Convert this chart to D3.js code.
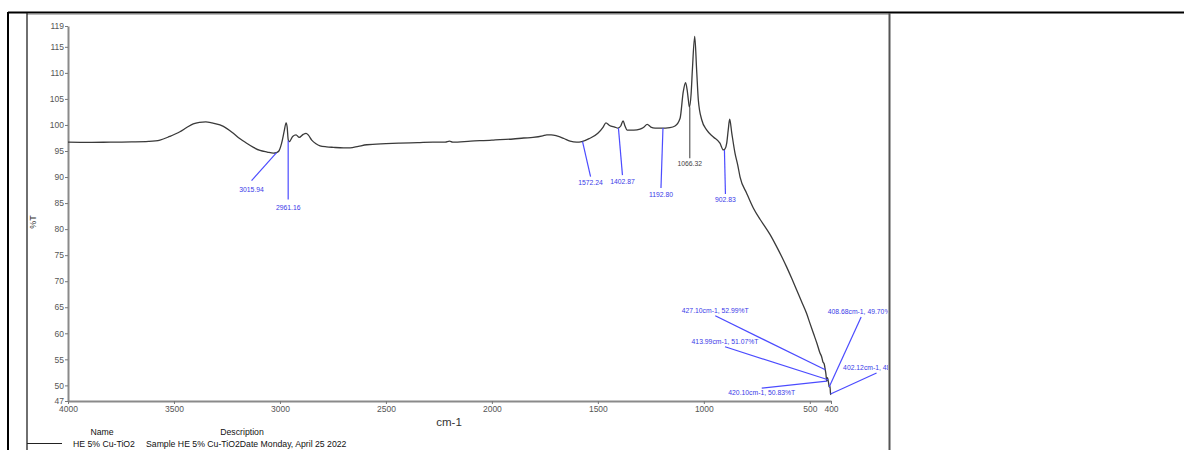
<!DOCTYPE html>
<html><head><meta charset="utf-8">
<script src="https://cdn.jsdelivr.net/npm/d3@7"></script>
<style>
body{margin:0;background:#fff}
svg{display:block}
text{font-family:"Liberation Sans",Arial,Helvetica,sans-serif}
</style>
</head><body>
<svg id="chart" width="1184" height="450"></svg>
<script>
// ---------------- data ----------------
const wavenumbers = [4000,3900,3800,3700,3620,3566,3520,3472,3440,3409,3380,3350,3320,3283,3250,3220,3190,3157,3125,3094,3060,3031,3016,3005,2992,2980,2971,2966,2961,2956,2940,2924,2909,2890,2877,2865,2850,2830,2811,2780,2748,2700,2669,2630,2590,2500,2434,2350,2278,2220,2200,2185,2100,2000,1962,1900,1850,1806,1760,1741,1720,1694,1660,1631,1600,1576,1540,1500,1475,1462,1445,1420,1405,1392,1381,1372,1362,1330,1301,1285,1267,1250,1230,1200,1160,1136,1112,1097,1086,1078,1073,1068,1060,1054,1043,1034,1026,1010,986,955,924,908,900,892,885,878,868,853,840,829,798,766,735,710,688,656,630,609,585,562,540,515,500,483,465,452,445,438,432,427.1,424,420.1,417,413.99,411,408.68,405,402.12,400];
const transmittance = [96.7,96.65,96.7,96.75,96.85,97.1,97.8,98.7,99.5,100.2,100.5,100.6,100.4,100.0,99.3,98.4,97.4,96.5,95.7,95.1,94.8,94.6,94.7,95.0,96.5,98.8,100.4,99.6,97.2,96.8,97.8,98.1,97.6,98.2,98.4,98.0,97.1,96.4,96.0,95.8,95.7,95.6,95.6,95.9,96.2,96.4,96.5,96.6,96.7,96.7,96.9,96.7,96.9,97.1,97.2,97.3,97.5,97.6,97.9,98.1,98.1,97.9,97.4,96.9,96.7,96.8,97.4,98.4,99.6,100.4,99.9,99.6,99.4,99.8,100.8,99.8,99.0,99.0,99.2,99.5,100.1,99.6,99.4,99.4,99.5,99.8,101.3,106.4,108.1,106.5,104.8,103.4,106.0,110.6,117.0,110.6,104.8,101.0,99.0,97.7,96.5,95.2,95.4,96.5,99.0,101.1,98.4,94.6,92.3,90.0,86.9,84.0,81.9,80.4,79.0,76.6,74.5,72.7,70.5,68.3,66.2,63.8,62.0,60.0,57.9,56.2,55.6,54.5,54.1,52.99,52.2,50.83,51.5,51.07,50.4,49.70,49.9,48.35,48.2];

const xTicks = [4000,3500,3000,2500,2000,1500,1000,500,400];
const yTicks = [47,50,55,60,65,70,75,80,85,90,95,100,105,110,115,119];

const peakWavenumbers = [3015.94,2961.16,1572.24,1402.87,1192.80,1066.32,902.83];
const peakTransmittance = [94.7,97.0,96.8,99.4,99.4,103.4,95.2];
const peakLabels = ["3015.94","2961.16","1572.24","1402.87","1192.80","1066.32","902.83"];
const peakKinds = ["blue","blue","blue","blue","blue","gray","blue"];

const noteWavenumbers = [427.10,413.99,420.10,408.68,402.12];
const noteTransmittance = [52.99,51.07,50.83,49.70,48.35];
const noteLabels = ["427.10cm-1, 52.99%T","413.99cm-1, 51.07%T","420.10cm-1, 50.83%T","408.68cm-1, 49.70%T","402.12cm-1, 48.35%T"];

const legendHeaders = ["Name","Description"];
const legendNames = ["HE 5% Cu-TiO2"];
const legendDescriptions = ["Sample HE 5% Cu-TiO2Date Monday, April 25 2022"];

const xTitle = "cm-1";
const yTitle = "%T";

// ---------------- layout (pixel offsets for label leader lines) ----------------
const peakOffsets = [[-25,28,11],[0,59,10.5],[8,35,8.5],[4,47,8.5],[-2,60,8.5],[0,51,8],[1,44,8.5]];
const noteOffsets = [[-110,-54,-2.5],[-103,-33,-2.5],[-65,7,7],[32,-70,-2.5],[46,-21,-2.5]];

const svg = d3.select("#chart");
const x = d3.scaleLinear().domain([4000,400]).range([68,831]);
const y = d3.scaleLinear().domain([47,119]).range([401,26]);

// frame (table-like borders)
svg.append("line").attr("x1",8).attr("x2",1184).attr("y1",12.5).attr("y2",12.5).attr("stroke","#000").attr("stroke-width",2);
svg.append("line").attr("x1",27).attr("x2",889).attr("y1",14.5).attr("y2",14.5).attr("stroke","#bbb").attr("stroke-width",1);
svg.append("line").attr("x1",8).attr("x2",8).attr("y1",12).attr("y2",450).attr("stroke","#000").attr("stroke-width",2);
svg.append("line").attr("x1",27).attr("x2",27).attr("y1",13).attr("y2",450).attr("stroke","#222").attr("stroke-width",1.3);
svg.append("line").attr("x1",889.5).attr("x2",889.5).attr("y1",13).attr("y2",450).attr("stroke","#555").attr("stroke-width",2);

// clip for annotations (cell border)
svg.append("defs").append("clipPath").attr("id","cell")
  .append("rect").attr("x",28).attr("y",14).attr("width",860).attr("height",436);

// axes
const yAxis = d3.axisLeft(y).tickValues(yTicks).tickSize(3).tickSizeOuter(0).tickPadding(1).tickFormat(d3.format("d"));
const xAxis = d3.axisBottom(x).tickValues(xTicks).tickSize(3).tickSizeOuter(0).tickPadding(2).tickFormat(d3.format("d"));

const gy = svg.append("g").attr("transform","translate(68,0)").call(yAxis);
const gx = svg.append("g").attr("transform","translate(0,401)").call(xAxis);
[gx,gy].forEach(g=>{
  g.select(".domain").attr("stroke","#8a8a8a").attr("stroke-width",2);
  g.selectAll(".tick line").attr("stroke","#777").attr("stroke-width",1);
  g.selectAll(".tick text").attr("fill","#555").style("font-size","8.5px").style("font-family","'Liberation Sans',Arial,sans-serif");
});

// axis titles
svg.append("text").attr("x",449).attr("y",426).attr("text-anchor","middle")
  .style("font-size","11.5px").attr("fill","#333").text(xTitle);
svg.append("text").attr("transform","translate(36,222) rotate(-90)").attr("text-anchor","middle")
  .style("font-size","9px").attr("fill","#333").text(yTitle);

// spectrum
const pts = wavenumbers.map((w,i)=>[w,transmittance[i]]);
const line = d3.line().x(d=>x(d[0])).y(d=>y(d[1])).curve(d3.curveMonotoneX);
svg.append("path").datum(pts).attr("d",line).attr("fill","none")
  .attr("stroke","#3a3a3a").attr("stroke-width",1.3).attr("stroke-linejoin","round");

// peak markers
const ann = svg.append("g").attr("clip-path","url(#cell)");
peakWavenumbers.forEach((w,i)=>{
  const ax = x(w), ay = y(peakTransmittance[i]);
  const [dx,dy,ty] = peakOffsets[i];
  const lc = peakKinds[i]==="gray" ? "#5a5a5a" : "#4b4bff";
  const tc = peakKinds[i]==="gray" ? "#444" : "#3a3ae8";
  ann.append("line").attr("x1",ax).attr("y1",ay).attr("x2",ax+dx).attr("y2",ay+dy)
    .attr("stroke",lc).attr("stroke-width",1.2);
  ann.append("text").attr("x",ax+dx).attr("y",ay+dy+ty).attr("text-anchor","middle")
    .style("font-size","6.8px").attr("fill",tc).text(peakLabels[i]);
});

// low-wavenumber annotations
noteWavenumbers.forEach((w,i)=>{
  const ax = x(w), ay = y(noteTransmittance[i]);
  const [dx,dy,ty] = noteOffsets[i];
  ann.append("line").attr("x1",ax).attr("y1",ay).attr("x2",ax+dx).attr("y2",ay+dy)
    .attr("stroke","#4b4bff").attr("stroke-width",1.2);
  ann.append("text").attr("x",ax+dx).attr("y",ay+dy+ty).attr("text-anchor","middle")
    .style("font-size","6.8px").attr("fill","#3a3ae8").text(noteLabels[i]);
});

// legend
const lg = svg.append("g").style("font-size","8.7px").attr("fill","#111");
lg.append("text").attr("x",102).attr("y",435).attr("text-anchor","middle").text(legendHeaders[0]);
lg.append("text").attr("x",242).attr("y",435).attr("text-anchor","middle").text(legendHeaders[1]);
legendNames.forEach((n,i)=>{
  const yy = 447 + i*11;
  lg.append("line").attr("x1",27).attr("x2",62).attr("y1",yy-3.5).attr("y2",yy-3.5).attr("stroke","#222").attr("stroke-width",1);
  lg.append("text").attr("x",73).attr("y",yy).text(n);
  lg.append("text").attr("x",146).attr("y",yy).text(legendDescriptions[i]);
});
</script>
</body></html>
